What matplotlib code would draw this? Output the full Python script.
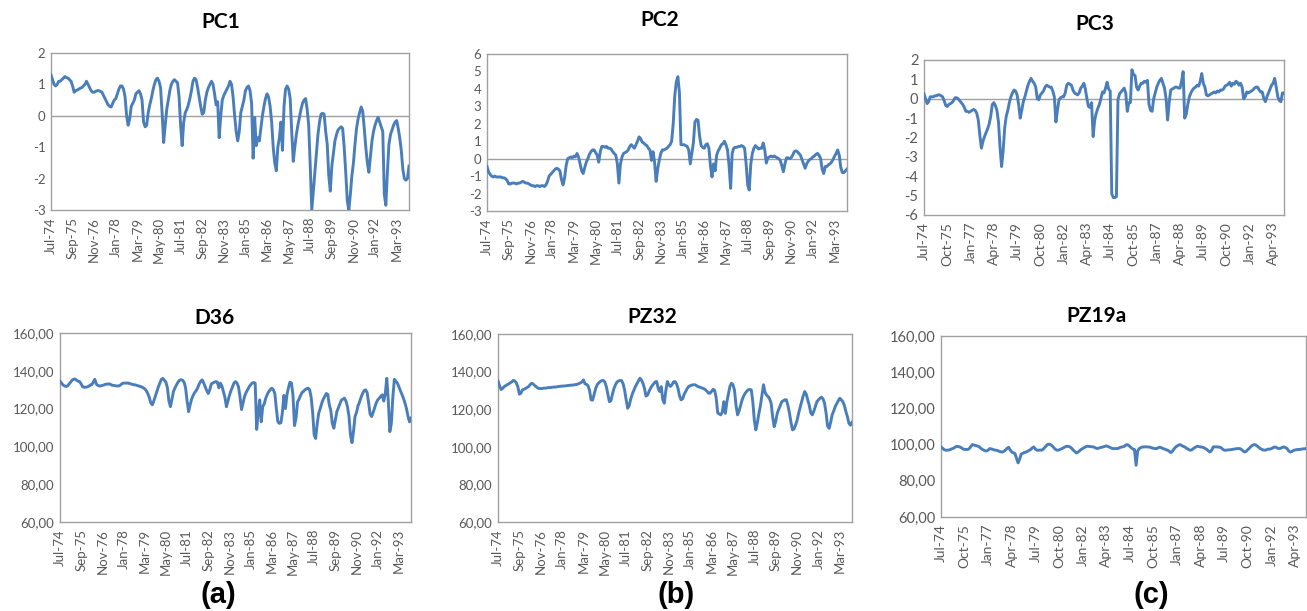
import matplotlib
matplotlib.use("Agg")
import matplotlib.pyplot as plt
import pandas as pd

# ---------------- data ----------------
months = pd.date_range("1974-07-01", periods=233, freq="MS")
month_labels = [d.strftime("%b-%y") for d in months]

ticks_14 = ["Jul-74", "Sep-75", "Nov-76", "Jan-78", "Mar-79", "May-80", "Jul-81",
            "Sep-82", "Nov-83", "Jan-85", "Mar-86", "May-87", "Jul-88", "Sep-89",
            "Nov-90", "Jan-92", "Mar-93"]
ticks_15 = ["Jul-74", "Oct-75", "Jan-77", "Apr-78", "Jul-79", "Oct-80", "Jan-82",
            "Apr-83", "Jul-84", "Oct-85", "Jan-87", "Apr-88", "Jul-89", "Oct-90",
            "Jan-92", "Apr-93"]

pc1 = [1.3, 1.15, 1.0, 0.95, 1.0, 1.1,
       1.1, 1.15, 1.2, 1.25, 1.22, 1.2, 1.15, 1.1, 0.95, 0.75, 0.8, 0.82,
       0.85, 0.88, 0.9, 0.95, 1.0, 1.1, 1.0, 0.9, 0.8, 0.75, 0.75, 0.78,
       0.8, 0.8, 0.78, 0.75, 0.65, 0.55, 0.45, 0.35, 0.3, 0.28, 0.4, 0.5,
       0.55, 0.7, 0.85, 0.95, 0.95, 0.85, 0.6, 0.0, -0.3, -0.1, 0.3, 0.4,
       0.5, 0.7, 0.75, 0.8, 0.7, 0.5, -0.2, -0.35, -0.3, 0.1, 0.35, 0.55,
       0.8, 1.0, 1.15, 1.2, 1.1, 0.9, 0.1, -0.85, -0.3, 0.2, 0.5, 0.8,
       1.0, 1.1, 1.15, 1.1, 1.05, 0.6, -0.3, -0.95, -0.2, 0.1, 0.2, 0.35,
       0.55, 0.8, 1.1, 1.2, 1.15, 0.9, 0.6, 0.3, 0.05, 0.1, 0.5, 0.75,
       0.9, 1.0, 1.1, 1.0, 0.7, 0.35, 0.45, -0.7, 0.0, 0.5, 0.65, 0.75,
       0.85, 0.95, 1.1, 1.0, 0.6, 0.0, -0.5, -0.8, -0.5, 0.1, 0.3, 0.5,
       0.8, 0.9, 0.95, 0.8, 0.4, -1.35, -0.05, -0.95, -0.7, -0.8, -0.4, 0.0,
       0.3, 0.55, 0.7, 0.6, 0.3, -0.2, -1.0, -1.5, -1.75, -1.0, -0.7, -0.2,
       -1.1, 0.3, 0.85, 0.95, 0.85, 0.55, -0.5, -1.45, -1.0, -0.6, -0.3, -0.05,
       0.2, 0.4, 0.5, 0.55, 0.2, -0.3, -1.6, -3.0, -2.4, -1.8, -1.2, -0.6,
       -0.2, 0.05, 0.08, 0.05, -0.5, -0.9, -1.9, -2.4, -1.6, -1.2, -0.8, -0.6,
       -0.45, -0.4, -0.35, -0.4, -1.0, -1.8, -2.7, -3.0, -2.5, -1.9, -1.5, -0.9,
       -0.4, -0.1, 0.1, 0.28, 0.15, -0.4, -1.0, -1.5, -1.8, -1.3, -0.8, -0.5,
       -0.3, -0.15, -0.05, -0.2, -0.35, -0.5, -2.5, -2.85, -1.8, -0.9, -0.6, -0.45,
       -0.3, -0.2, -0.15, -0.4, -0.7, -1.1, -1.7, -2.0, -2.05, -2.0, -1.6]

pc2 = [-0.45, -0.75, -0.9, -1.0, -1.05, -1.0,
       -1.05, -1.05, -1.05, -1.05, -1.1, -1.1, -1.15, -1.25, -1.45, -1.45, -1.4, -1.4,
       -1.4, -1.45, -1.4, -1.4, -1.35, -1.3, -1.35, -1.4, -1.4, -1.45, -1.5, -1.55,
       -1.55, -1.6, -1.55, -1.55, -1.6, -1.55, -1.55, -1.6, -1.5, -1.3, -1.0, -0.9,
       -0.8, -0.7, -0.6, -0.55, -0.6, -0.7, -1.2, -1.5, -1.1, -0.4, 0.0, 0.05,
       0.1, 0.05, 0.15, 0.1, 0.3, 0.1, -0.3, -0.7, -0.85, -0.5, -0.2, 0.0,
       0.25, 0.4, 0.5, 0.5, 0.35, 0.2, -0.2, 0.4, 0.7, 0.7, 0.65, 0.7,
       0.6, 0.6, 0.55, 0.4, 0.3, 0.2, -0.3, -1.4, -0.3, 0.1, 0.3, 0.35,
       0.4, 0.5, 0.7, 0.8, 0.7, 0.6, 0.8, 1.0, 1.25, 1.15, 0.95, 0.9,
       0.8, 0.75, 0.6, 0.5, -0.1, 0.4, -0.2, -1.3, -0.6, -0.1, 0.3, 0.5,
       0.5, 0.55, 0.6, 0.7, 0.8, 1.0, 2.0, 3.6, 4.4, 4.7, 3.8, 0.8,
       0.8, 0.8, 0.75, 0.7, 0.5, -0.3, 0.3, 0.9, 2.1, 2.25, 2.2, 1.3,
       0.75, 0.65, 0.6, 0.8, 0.85, 0.6, -0.4, -1.05, -0.3, -0.7, 0.2, 0.45,
       0.6, 0.8, 0.85, 1.0, 0.8, 0.5, -0.4, -1.7, 0.3, 0.6, 0.65, 0.65,
       0.7, 0.7, 0.75, 0.7, 0.6, -0.3, -1.5, -1.8, -0.3, 0.3, 0.6, 0.75,
       0.65, 0.55, 0.6, 0.6, 0.9, 0.5, -0.25, 0.05, 0.1, 0.15, 0.1, 0.15,
       0.1, 0.05, 0.0, -0.1, -0.4, -0.75, -0.3, 0.05, 0.05, 0.0, 0.05, 0.2,
       0.4, 0.45, 0.4, 0.3, 0.2, -0.05, -0.3, -0.55, -0.3, -0.15, -0.05, 0.0,
       0.1, 0.15, 0.25, 0.3, 0.2, 0.0, -0.6, -0.85, -0.45, -0.45, -0.35, -0.3,
       -0.2, -0.05, 0.15, 0.3, 0.5, 0.2, -0.5, -0.8, -0.8, -0.7, -0.6]

pc3 = [0.25, 0.0, -0.25, -0.15, 0.1, 0.1,
       0.1, 0.15, 0.15, 0.2, 0.2, 0.15, 0.1, -0.1, -0.35, -0.4, -0.3, -0.25,
       -0.2, -0.1, 0.05, 0.05, 0.0, -0.1, -0.2, -0.3, -0.45, -0.65, -0.65, -0.7,
       -0.65, -0.6, -0.55, -0.6, -0.75, -1.1, -1.9, -2.55, -2.2, -1.95, -1.75, -1.55,
       -1.3, -0.9, -0.3, -0.2, -0.35, -0.6, -1.2, -2.5, -3.5, -2.7, -1.5, -0.9,
       -0.6, -0.2, 0.1, 0.3, 0.45, 0.4, 0.2, -0.3, -1.0, -0.6, -0.15, 0.1,
       0.4, 0.7, 0.9, 1.05, 0.9, 0.8, 0.6, 0.0, -0.05, 0.2, 0.3, 0.4,
       0.6, 0.7, 0.65, 0.6, 0.6, 0.4, 0.1, -1.2, -0.6, -0.05, 0.05, 0.1,
       0.1, 0.3, 0.7, 0.8, 0.75, 0.7, 0.45, 0.3, 0.25, 0.2, 0.3, 0.55,
       0.65, 0.8, 0.5, 0.0, -0.4, -0.45, -0.2, -1.95, -1.1, -0.75, -0.5, -0.3,
       0.0, 0.35, 0.3, 0.55, 0.85, 0.5, 0.4, -4.9, -5.1, -5.1, -5.05, -0.05,
       0.25, 0.35, 0.45, 0.55, 0.3, -0.65, -0.2, -0.2, 1.5, 1.25, 1.2, 0.6,
       0.45, 0.65, 0.8, 0.8, 0.9, 0.85, 0.95, -0.3, -0.6, -0.65, 0.0, 0.3,
       0.6, 0.8, 0.95, 1.05, 0.8, 0.55, 0.0, -1.1, -0.2, 0.45, 0.5, 0.55,
       0.6, 0.6, 0.55, 0.55, 0.9, 1.4, -1.0, -0.8, -0.3, 0.1, 0.3, 0.45,
       0.55, 0.6, 0.7, 0.65, 0.9, 1.3, 0.8, 0.6, 0.2, 0.15, 0.2, 0.25,
       0.3, 0.35, 0.3, 0.4, 0.35, 0.45, 0.45, 0.5, 0.65, 0.7, 0.75, 0.85,
       0.65, 0.8, 0.75, 0.9, 0.85, 0.7, 0.8, 0.6, 0.0, 0.1, 0.35, 0.3,
       0.35, 0.4, 0.45, 0.55, 0.6, 0.6, 0.45, 0.35, 0.35, 0.0, -0.15, 0.1,
       0.3, 0.5, 0.7, 0.8, 1.05, 0.6, 0.1, -0.1, -0.15, 0.3, 0.3]

d36 = [134.5, 133.5, 132.5, 132, 131.7, 132,
       133, 134, 135, 135.6, 135.6, 135, 134.5, 134.3, 133, 131.5, 131.3, 131.3,
       131.5, 131.8, 132.5, 132.6, 134, 135.5, 133, 132.3, 132, 132, 132.3, 132.5,
       132.8, 133, 133, 133, 132.5, 132.3, 132.2, 132, 132, 132, 132.5, 133.2,
       133.5, 133.5, 133.5, 133.5, 133.3, 133, 132.8, 132.6, 132.5, 132.2, 132, 131.7,
       131.5, 131, 130.5, 129.5, 128, 126, 123, 122, 124, 126.5, 129, 131.5,
       133.5, 135.5, 136, 135, 134, 131, 124, 121, 125, 129, 131, 132.5,
       134, 135, 135.3, 135, 134, 131, 124, 118.4, 122, 125, 127, 128.5,
       129.5, 131, 133, 134.5, 135.2, 133.5, 131.5, 129.5, 128, 130, 133, 133.5,
       134, 134.3, 134, 131, 133.5, 132, 129, 126, 121, 124, 127, 129.5,
       131.5, 133.5, 134.3, 133.5, 131.5, 126, 119.5, 123, 126.5, 128.5, 130, 131.5,
       132.6, 133.5, 133.8, 133.5, 109, 118, 124.6, 113, 121, 122.5, 125.5, 127.5,
       129, 130, 130.8, 130, 128, 120, 113, 112.2, 112.5, 118, 127, 120,
       127.3, 131, 134, 133.5, 127, 111, 115, 123.5, 125, 127, 128.5, 129.2,
       130, 130.5, 130.8, 130, 126, 118, 106, 104.2, 112, 117.5, 120, 122.8,
       125, 126.4, 128, 127.5, 122, 119, 112, 109.6, 114, 118.4, 120.5, 122.5,
       124.5, 125, 125.5, 124, 121, 116, 106, 102, 108, 115.8, 118, 121.5,
       123.5, 126, 128, 129.5, 129.9, 128.5, 123, 117, 115.8, 118, 120.5, 123,
       124.6, 125.5, 126.5, 127.3, 124, 128, 136, 124, 107.8, 112, 126, 135.5,
       134.5, 133.5, 131.5, 129.5, 127.5, 125.5, 123, 120, 116, 113, 115]

pz32 = [135, 132.5, 130.5, 131, 132, 132.5,
        133, 133.5, 134, 134.5, 135.3, 135, 134, 132, 128, 128.5, 130.3, 130.6,
        131, 131.5, 132, 133, 133.8, 133.5, 132.6, 132, 131.3, 131, 131, 131,
        131.2, 131.2, 131.3, 131.5, 131.5, 131.6, 131.7, 131.8, 131.8, 132, 132.1, 132.2,
        132.3, 132.3, 132.4, 132.5, 132.6, 132.7, 132.8, 132.8, 133, 133.1, 133.3, 133.6,
        134, 134.5, 135.6, 133.5, 133.2, 132.5, 130, 125, 124.8, 128, 131, 133,
        134, 134.7, 135.2, 135.3, 134.5, 132, 128, 124, 124.5, 128, 131, 133,
        134.5, 135, 135.3, 135.2, 133.5, 130, 125, 120.5, 122, 125.5, 128, 130,
        132, 133.5, 135, 136.5, 135.5, 133.8, 131, 127, 127.5, 129.5, 131.2, 132.5,
        133.5, 134.5, 134.7, 131, 129.4, 132, 125, 123.2, 130, 134.7, 133, 132.1,
        133, 134.5, 134.7, 133.5, 131, 127, 125, 125.5, 128, 129.4, 131, 132.1,
        132.5, 132.8, 133, 133, 132.6, 132, 131.8, 131.5, 131.2, 130.8, 130.3, 129.5,
        128.5, 128.5, 129.5, 130.6, 130, 126, 118, 117.5, 117, 118.5, 124, 117.8,
        124, 128, 132.1, 133.8, 133, 130, 122, 117, 119, 122, 125, 127,
        128.5, 129.5, 130.3, 130.5, 130.3, 124, 114, 109, 113, 117.8, 122, 127.6,
        133, 129, 127.5, 126.7, 125.5, 123.2, 116, 110.7, 113.5, 117.8, 120, 122,
        124, 124.5, 125, 125, 122, 118, 113, 109, 109.5, 111.6, 114, 117.8,
        121, 124, 127, 129.4, 128, 125, 122, 118, 117, 119, 121.5, 124,
        125, 125.8, 126.4, 125.5, 123.2, 118, 111, 109.8, 113, 117, 119, 121.4,
        123, 124.5, 125.8, 125, 124, 122, 118.7, 116, 112.5, 111.5, 113]

pz19a = [98.7, 98.0, 97.2, 96.9, 96.9, 97.0,
         97.3, 97.7, 98.0, 98.6, 99.1, 98.9, 98.7, 98.2, 97.6, 97.3, 97.3, 97.3,
         97.8, 99.0, 100.0, 99.8, 99.5, 99.2, 99.0, 98.2, 97.5, 97.0, 96.6, 96.5,
         97.0, 97.8, 97.6, 97.3, 97.0, 96.9, 96.7, 96.3, 96.0, 95.9, 96.3, 97.0,
         98.0, 98.5, 97.0, 95.9, 95.5, 95.0, 92.5, 89.9, 92.0, 94.8, 95.2, 95.6,
         95.9, 96.3, 96.8, 97.3, 98.2, 98.7, 97.5, 96.9, 96.9, 97.0, 96.9, 97.5,
         98.5, 99.5, 100.2, 100.2, 99.8, 99.0, 98.0, 97.2, 96.9, 97.0, 97.5, 97.8,
         98.3, 98.8, 99.1, 99.0, 98.7, 98.0, 97.0, 96.2, 95.4, 95.8, 96.5, 97.3,
         97.8, 98.3, 98.8, 99.1, 99.0, 98.9, 98.8, 98.7, 98.3, 97.8, 98.0, 98.3,
         98.5, 98.7, 99.0, 99.3, 99.0, 98.6, 98.2, 97.8, 97.8, 97.8, 97.8, 98.0,
         98.5, 98.7, 98.8, 99.4, 100.0, 99.7, 99.0, 98.2, 97.5, 97.3, 88.6, 96.5,
         97.8, 98.3, 98.7, 98.7, 98.8, 98.7, 98.7, 98.5, 98.2, 98.0, 97.8, 97.8,
         98.2, 98.6, 98.3, 97.8, 97.6, 97.2, 96.9, 96.4, 95.6, 96.2, 97.5, 98.5,
         99.2, 99.7, 100.0, 99.5, 99.0, 98.7, 98.0, 97.5, 97.0, 96.9, 97.5, 98.2,
         98.7, 99.1, 98.9, 98.7, 98.6, 98.3, 97.8, 97.3, 96.5, 95.9, 96.8, 98.7,
         98.8, 98.7, 98.7, 98.6, 98.3, 97.5, 96.9, 96.9, 97.0, 97.1, 97.2, 97.3,
         97.5, 97.6, 97.8, 97.8, 97.8, 97.3, 96.5, 95.9, 96.3, 97.2, 98.0, 99.0,
         99.6, 100.0, 99.8, 99.2, 98.5, 97.8, 97.3, 97.0, 96.9, 97.2, 97.5, 97.5,
         97.8, 98.2, 98.7, 98.5, 98.0, 97.8, 98.0, 98.5, 98.7, 98.3, 97.8, 96.5,
         95.9, 96.2, 96.8, 97.0, 97.2, 97.3, 97.3, 97.5, 97.6, 97.7, 97.8]

titles = ["PC1", "PC2", "PC3", "D36", "PZ32", "PZ19a"]
panel_labels = ["(a)", "(b)", "(c)"]

# ---------------- drawing ----------------
W, H = 1307, 611
fig = plt.figure(figsize=(W / 100, H / 100), dpi=100)
fig.patch.set_facecolor("white")

LINE = "#4a7ebb"
GRAY = "#a0a0a0"
TXT = "#595959"
FONT = "Lato"


def px_axes(l, t, r, b):
    return fig.add_axes([l / W, 1 - b / H, (r - l) / W, (b - t) / H])


def fmt_int(v):
    return "%d" % round(v)


def fmt_dec(v):
    return ("%.2f" % v).replace(".", ",")


panels = [
    # data, title, box(l,t,r,b), ylim, yticks, fmt, xticks, title pos, zero line, ytick fs, xtick fs
    (pc1, titles[0], (51, 53, 409, 210), (-3, 2), [2, 1, 0, -1, -2, -3], fmt_int, ticks_14, (221, 22), True, 9.5, 9.5),
    (pc2, titles[1], (487, 54, 847, 211), (-3, 6), [6, 5, 4, 3, 2, 1, 0, -1, -2, -3], fmt_int, ticks_14, (660, 20), True, 9.5, 9.5),
    (pc3, titles[2], (924, 60, 1284, 215), (-6, 2), [2, 1, 0, -1, -2, -3, -4, -5, -6], fmt_int, ticks_15, (1095, 24), True, 10.5, 10),
    (d36, titles[3], (60, 333, 411, 522), (60, 160), [160, 140, 120, 100, 80, 60], fmt_dec, ticks_14, (214, 318), False, 9.5, 9.5),
    (pz32, titles[4], (498, 334, 852, 522), (60, 160), [160, 140, 120, 100, 80, 60], fmt_dec, ticks_14, (652, 317), False, 9.5, 9.5),
    (pz19a, titles[5], (941, 336, 1306, 517), (60, 160), [160, 140, 120, 100, 80, 60], fmt_dec, ticks_15, (1097, 316), False, 10.5, 10),
]

for data, title, box, ylim, yticks, fmt, xticks, tpos, zero, yfs, xfs in panels:
    ax = px_axes(*box)
    x = list(range(len(data)))
    if zero:
        ax.axhline(0, color=GRAY, lw=1.0, zorder=1)
    ax.plot(x, data, color=LINE, lw=2.1, zorder=3, solid_joinstyle="round")
    ax.set_xlim(0, len(data) - 1)
    ax.set_ylim(*ylim)
    ax.set_yticks(yticks)
    ax.set_yticklabels([fmt(v) for v in yticks], fontsize=yfs, color=TXT, fontfamily=FONT)
    pos = [month_labels.index(t) for t in xticks]
    ax.set_xticks(pos)
    ax.set_xticklabels(xticks, rotation=90, fontsize=xfs, color=TXT, fontfamily=FONT)
    ax.tick_params(axis="both", length=0)
    ax.tick_params(axis="y", pad=4)
    ax.tick_params(axis="x", pad=5)
    for s in ax.spines.values():
        s.set_color(GRAY)
        s.set_linewidth(1.0)
    fig.text(tpos[0] / W, 1 - tpos[1] / H, title, ha="center", va="center",
             fontsize=15, fontweight="bold", fontfamily=FONT, color="black")

for lab, xc in zip(panel_labels, [218, 676, 1151]):
    fig.text(xc / W, 1 - 595 / H, lab, ha="center", va="center", fontsize=21,
             fontweight="bold", fontfamily="Liberation Sans", color="black")

fig.savefig("out.png", dpi=100, facecolor="white")
